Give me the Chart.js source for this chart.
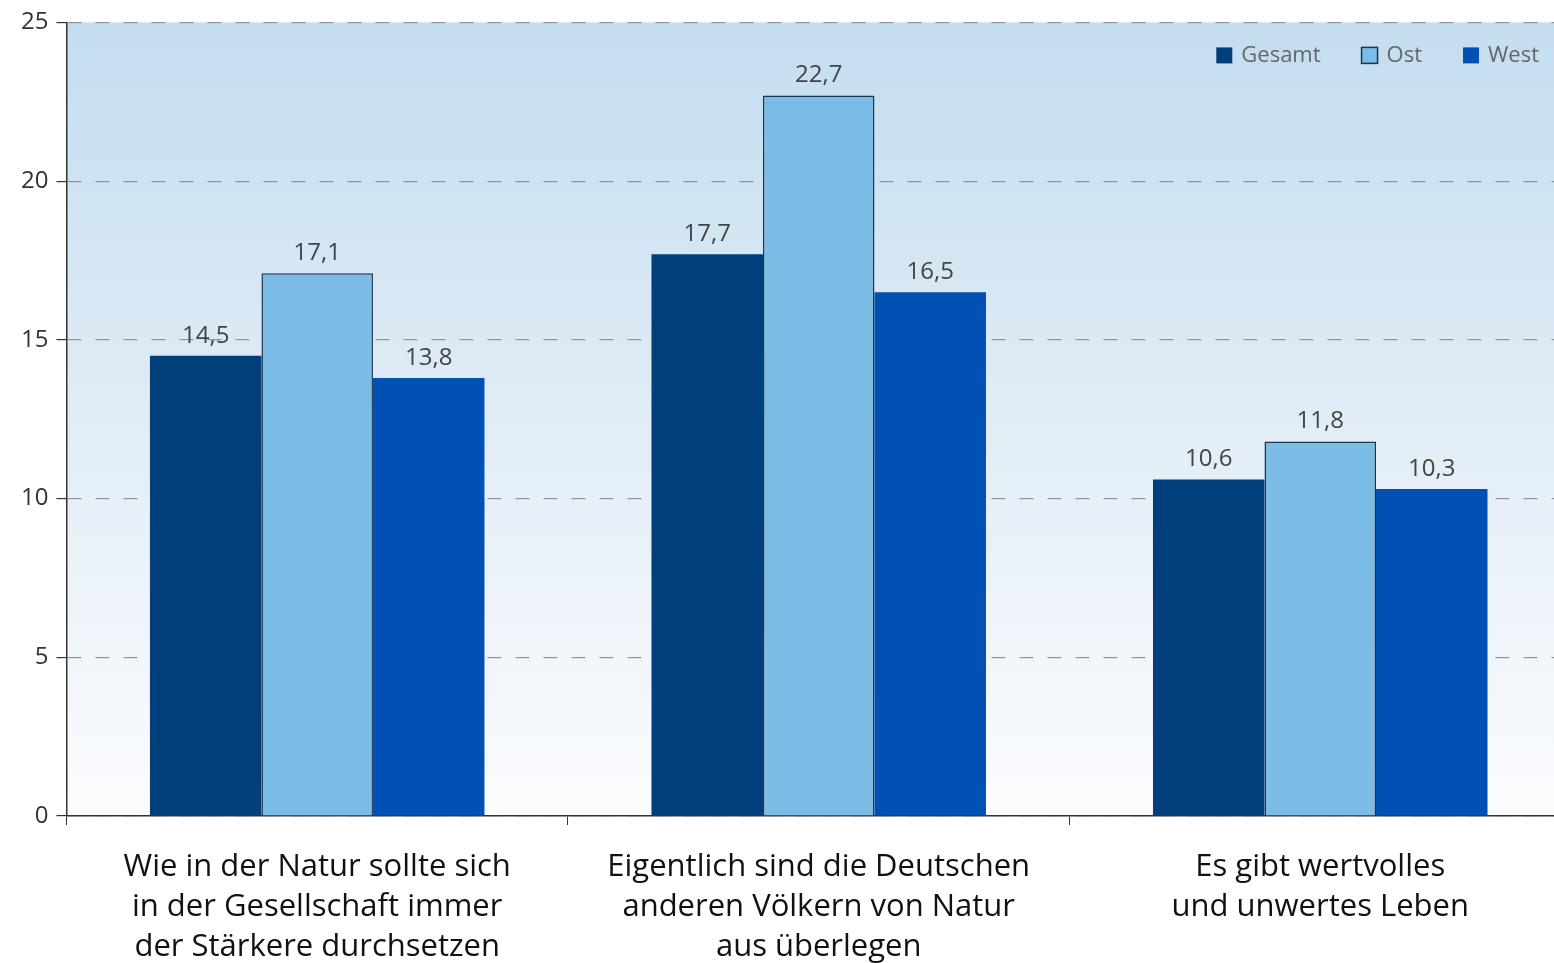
<!DOCTYPE html>
<html>
<head>
<meta charset="utf-8">
<script src="https://cdn.jsdelivr.net/npm/chart.js@4"></script>
<style>
  html,body{margin:0;padding:0;background:#fff;overflow:hidden;}
</style>
</head>
<body>
<canvas id="mychart" width="1571" height="963"></canvas>
<script>
const Categories=[
    ["Wie in der Natur sollte sich","in der Gesellschaft immer","der Stärkere durchsetzen"],
    ["Eigentlich sind die Deutschen","anderen Völkern von Natur","aus überlegen"],
    ["Es gibt wertvolles","und unwertes Leben"]
]
const Gesamt=[14.5,17.7,10.6]
const Ost=[17.1,22.7,11.8]
const West=[13.8,16.5,10.3]
const YTicks=[0,5,10,15,20,25]

// plot background: light blue at the top fading to white
const plotBg={
    id:"plotBg",
    beforeDraw(chart){
        const {ctx,chartArea:a}=chart
        const g=ctx.createLinearGradient(0,a.top,0,a.bottom)
        g.addColorStop(0,"#c3ddef")
        g.addColorStop(0.55,"#e4eef7")
        g.addColorStop(1,"#fbfcfe")
        ctx.save()
        ctx.fillStyle=g
        ctx.fillRect(a.left,a.top,a.right-a.left,a.bottom-a.top)
        ctx.restore()
    }
}

// value labels above bars, german decimal comma
const valueLabels={
    id:"valueLabels",
    afterDatasetsDraw(chart){
        const ctx=chart.ctx
        ctx.save()
        ctx.font="24px 'Open Sans'"
        ctx.fillStyle="#444"
        ctx.textAlign="center"
        ctx.textBaseline="bottom"
        chart.data.datasets.forEach((ds,i)=>{
            chart.getDatasetMeta(i).data.forEach((bar,j)=>{
                ctx.fillText(ds.data[j].toFixed(1).replace(".",","),bar.x,bar.y-8)
            })
        })
        ctx.restore()
    }
}

// legend inside the plot, top right of the visible window
const cornerLegend={
    id:"cornerLegend",
    afterDraw(chart){
        const ctx=chart.ctx
        ctx.save()
        ctx.font="22px 'Open Sans'"
        ctx.textBaseline="middle"
        ctx.textAlign="left"
        let x=window.innerWidth-15
        const y=chart.chartArea.top+33
        const ds=chart.data.datasets.slice().reverse()
        ds.forEach(d=>{
            const w=ctx.measureText(d.label).width
            x-=w
            ctx.fillStyle="#666"
            ctx.fillText(d.label,x,y)
            x-=9+16
            ctx.fillStyle=d.backgroundColor
            ctx.fillRect(x,y-8,16,16)
            if(d.borderWidth){
                ctx.strokeStyle=d.borderColor
                ctx.lineWidth=1.5
                ctx.strokeRect(x,y-8,16,16)
            }
            x-=41
        })
        ctx.restore()
    }
}

new Chart("mychart",{
    type:"bar",
    data:{
        labels:Categories,
        datasets:[
            {label:"Gesamt",data:Gesamt,backgroundColor:"#003f7c",borderWidth:0},
            {label:"Ost",data:Ost,backgroundColor:"#7bbde6",borderColor:"#1b3550",borderWidth:1.5},
            {label:"West",data:West,backgroundColor:"#0051b3",borderWidth:0},
        ],
    },
    options:{
        responsive:false,
        animation:false,
        layout:{padding:{top:8,left:13,right:0,bottom:-26}},
        datasets:{bar:{categoryPercentage:0.667,barPercentage:1}},
        plugins:{
            legend:{display:false},
            tooltip:{enabled:false},
        },
        scales:{
            x:{
                grid:{drawOnChartArea:false,drawTicks:true,tickLength:9,color:"#333",lineWidth:1},
                border:{color:"#333",width:1.5},
                ticks:{color:"#111",font:{family:"Open Sans",size:31,lineHeight:1.29},padding:22},
            },
            y:{
                min:0,max:25,
                afterBuildTicks(axis){axis.ticks=YTicks.map(v=>({value:v}))},
                grid:{color:"#8f959c",lineWidth:1.2,tickLength:10,tickColor:"#333",tickBorderDash:[]},
                border:{color:"#333",width:1.5,dash:[14,14]},
                ticks:{color:"#333",font:{family:"Open Sans",size:24},padding:8},
            },
        },
    },
    plugins:[plotBg,valueLabels,cornerLegend],
});
</script>
</body>
</html>
